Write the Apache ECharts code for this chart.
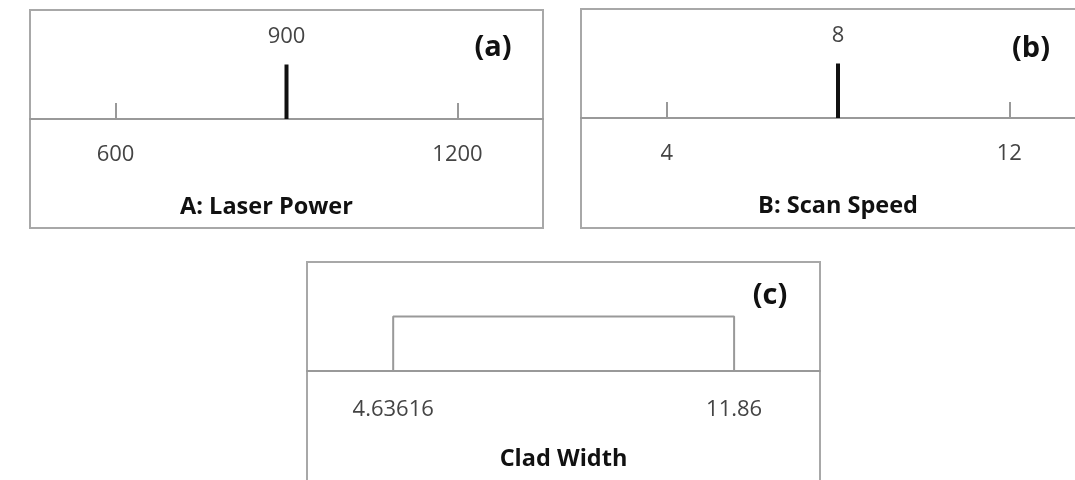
<!DOCTYPE html>
<html>
<head>
<meta charset="utf-8">
<script src="https://cdn.jsdelivr.net/npm/echarts@6/dist/echarts.min.js"></script>
<style>
  html, body { margin: 0; padding: 0; background: #fff; }
  #main { width: 1075px; height: 480px; }
</style>
</head>
<body>
<div id="main"></div>
<script>
// factor settings panels: laser power, scan speed, clad width

var panelNames = ['A: Laser Power', 'B: Scan Speed', 'Clad Width'];
var panelTags = ['(a)', '(b)', '(c)'];
var powerTicks = [600, 1200];
var powerValue = 900;
var speedTicks = [4, 12];
var speedValue = 8;
var widthLimits = [4.63616, 11.86];

var FONT = '"Open Sans", "Noto Sans", sans-serif';
var BORDER = '#a8a8a8';

var chart = echarts.init(document.getElementById('main'));

// boxes (0-2) frame each panel, plots (3-5) hold the axis along the box middle
var boxes = [
  { left: 30, top: 10, width: 513, height: 218 },
  { left: 581, top: 9, width: 514, height: 219 },
  { left: 307, top: 262, width: 513, height: 220 }
];
var plots = [
  { left: 30, top: 10, width: 513, height: 109 },
  { left: 581, top: 9, width: 514, height: 109 },
  { left: 307, top: 262, width: 513, height: 109 }
];
boxes.forEach(function (g) {
  g.show = true;
  g.borderColor = BORDER;
  g.borderWidth = 2;
  g.backgroundColor = '#fff';
  g.outerBoundsMode = 'none';
  g.containLabel = false;
});
plots.forEach(function (g) {
  g.show = false;
  g.outerBoundsMode = 'none';
  g.containLabel = false;
});

// the laser power name sits a little left of the panel centre
var namePads = [[0, 40, 0, 0], [0, 0, 0, 0], [0, 0, 0, 0]];
var labelMargins = [25, 25, 28];

function hiddenAxis(i) {
  return { type: 'value', gridIndex: i, show: false, min: 0, max: 1, splitLine: { show: false } };
}

function xAxisFor(i, min, max, ticks, showTick) {
  return {
    type: 'value',
    gridIndex: i + 3,
    min: min,
    max: max,
    name: panelNames[i],
    nameLocation: 'middle',
    nameGap: 76,
    nameTextStyle: {
      fontFamily: FONT, fontSize: 23.5, fontWeight: 'bold', color: '#111',
      padding: namePads[i]
    },
    axisLine: { onZero: false, lineStyle: { color: '#999', width: 2 } },
    axisTick: { show: showTick, inside: true, length: 16, customValues: ticks, lineStyle: { color: '#999', width: 2 } },
    axisLabel: {
      customValues: ticks, margin: labelMargins[i], fontFamily: FONT, fontSize: 22, color: '#444',
      formatter: function (v) { return String(v); }
    },
    splitLine: { show: false }
  };
}

function yAxisFor(i) {
  return {
    type: 'value', gridIndex: i + 3, min: 0, max: 2, show: false,
    splitLine: { show: false }
  };
}

function settingLine(i, value) {
  return {
    type: 'line',
    xAxisIndex: i + 3,
    yAxisIndex: i + 3,
    symbol: 'circle',
    symbolSize: 0,
    lineStyle: { color: '#111', width: 4 },
    itemStyle: { color: '#111' },
    label: { show: false },
    data: [
      [value, 0],
      {
        value: [value, 1],
        label: {
          show: true, position: 'top', distance: 17,
          fontFamily: FONT, fontSize: 22, color: '#444',
          formatter: function (p) { return String(p.value[0]); }
        }
      }
    ],
    silent: true
  };
}

var wMin = 2.81, wMax = 13.68;
var stepData = [
  [wMin, 0],
  [widthLimits[0], 0],
  [widthLimits[0], 1],
  [widthLimits[1], 1],
  [widthLimits[1], 0],
  [wMax, 0]
];

var tagPos = [[493, 48], [1031, 49], [770, 296]];

chart.setOption({
  backgroundColor: '#fff',
  animation: false,
  graphic: tagPos.map(function (p, i) {
    return {
      type: 'text', x: p[0], y: p[1], z: 10,
      style: {
        text: panelTags[i], fill: '#111', fontFamily: FONT,
        fontSize: 29, fontWeight: 'bold', align: 'center', verticalAlign: 'middle'
      }
    };
  }),
  grid: boxes.concat(plots),
  xAxis: [
    hiddenAxis(0), hiddenAxis(1), hiddenAxis(2),
    xAxisFor(0, 450, 1350, powerTicks, true),
    xAxisFor(1, 2, 14, speedTicks, true),
    xAxisFor(2, wMin, wMax, widthLimits, false)
  ],
  yAxis: [
    hiddenAxis(0), hiddenAxis(1), hiddenAxis(2),
    yAxisFor(0), yAxisFor(1), yAxisFor(2)
  ],
  series: [
    settingLine(0, powerValue),
    settingLine(1, speedValue),
    {
      type: 'line',
      xAxisIndex: 5,
      yAxisIndex: 5,
      symbol: 'none',
      lineStyle: { color: '#999', width: 2 },
      data: stepData,
      silent: true
    }
  ]
});

window.onresize = function () { chart.resize(); };
</script>
</body>
</html>
